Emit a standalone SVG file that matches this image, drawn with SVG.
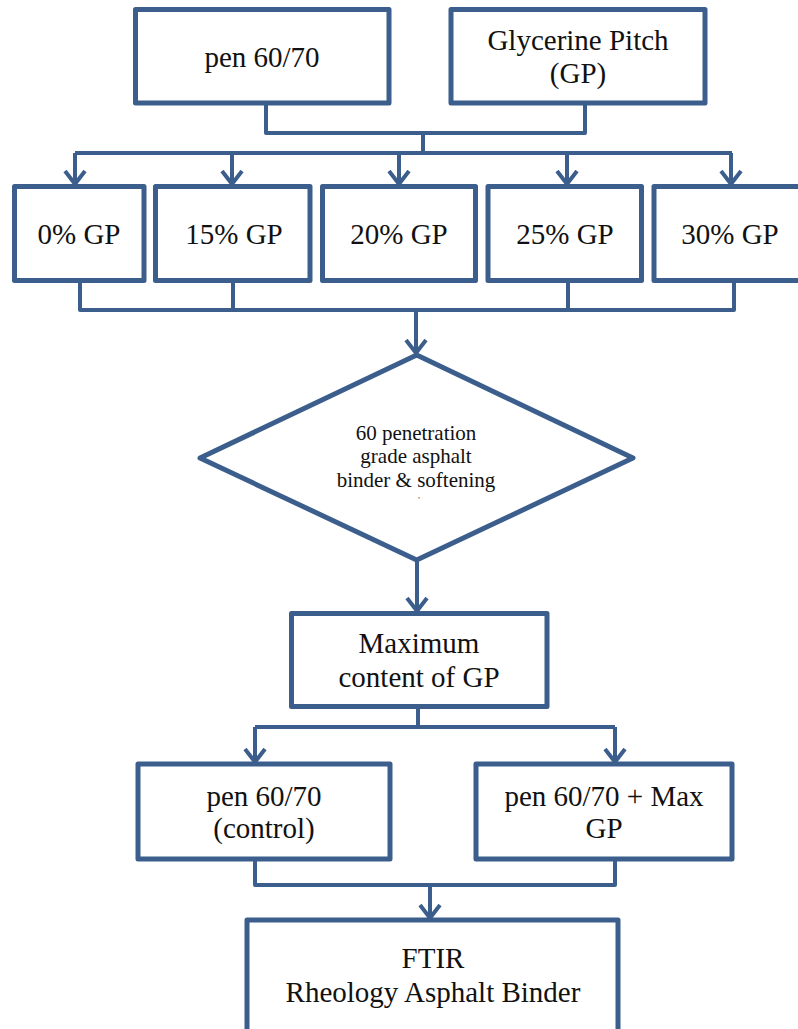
<svg xmlns="http://www.w3.org/2000/svg" width="798" height="1029" viewBox="0 0 798 1029">
<style>
.box{fill:#fff;stroke:#3B5E8C;stroke-width:5;stroke-linejoin:round}
.ln{fill:none;stroke:#3B5E8C;stroke-width:4;stroke-linejoin:round}
.t{font-family:"Liberation Serif","Times New Roman",serif;font-size:29px;fill:#111;text-anchor:middle}
.s{font-size:21px}
</style>
<defs>
<marker id="ah" viewBox="0 0 16 24" refX="14" refY="12" markerWidth="16" markerHeight="24" markerUnits="userSpaceOnUse" orient="auto">
<path d="M1,2 L14,12 L1,22" fill="none" stroke="#3B5E8C" stroke-width="4" stroke-linejoin="round"/>
</marker>
</defs>
<rect width="798" height="1029" fill="#fff"/>
<g id="connectors">
<path class="ln" d="M266,103 V133 H585 V103"/>
<path class="ln" d="M423,133 V153"/>
<path class="ln" d="M75,153 H732"/>
<path class="ln" d="M75,153 V184" marker-end="url(#ah)"/>
<path class="ln" d="M232,153 V184" marker-end="url(#ah)"/>
<path class="ln" d="M399,153 V184" marker-end="url(#ah)"/>
<path class="ln" d="M567,153 V184" marker-end="url(#ah)"/>
<path class="ln" d="M731,153 V184" marker-end="url(#ah)"/>
<path class="ln" d="M80,283 V310 H734 V283"/>
<path class="ln" d="M233,283 V310"/>
<path class="ln" d="M568,283 V310"/>
<path class="ln" d="M416,310 V353" marker-end="url(#ah)"/>
<path class="ln" d="M417,562 V611" marker-end="url(#ah)"/>
<path class="ln" d="M418,709 V727"/>
<path class="ln" d="M255,727 H615"/>
<path class="ln" d="M255,727 V762" marker-end="url(#ah)"/>
<path class="ln" d="M615,727 V762" marker-end="url(#ah)"/>
<path class="ln" d="M255,861 V885 H615 V861"/>
<path class="ln" d="M430,885 V918" marker-end="url(#ah)"/>
</g>
<g id="pen">
<rect class="box" x="135.5" y="9.5" width="253.5" height="93.5"/>
<text class="t" x="262" y="67">pen 60/70</text>
</g>
<g id="gp">
<rect class="box" x="451" y="9.5" width="254" height="93.5"/>
<text class="t" x="578" y="50">Glycerine Pitch</text>
<text class="t" x="578" y="83">(GP)</text>
</g>
<g id="gp0">
<rect class="box" x="14.5" y="186.5" width="129.5" height="94"/>
<text class="t" x="79" y="244">0% GP</text>
</g>
<g id="gp15">
<rect class="box" x="155.5" y="186.5" width="154.5" height="94"/>
<text class="t" x="234" y="244">15% GP</text>
</g>
<g id="gp20">
<rect class="box" x="322.5" y="186.5" width="153" height="94"/>
<text class="t" x="399" y="244">20% GP</text>
</g>
<g id="gp25">
<rect class="box" x="488" y="186.5" width="153.5" height="94"/>
<text class="t" x="565" y="244">25% GP</text>
</g>
<g id="gp30">
<rect class="box" x="654" y="186.5" width="152" height="94"/>
<text class="t" x="730" y="244">30% GP</text>
</g>
<g id="decision">
<polygon class="box" points="416.7,355 633,458 416.7,560 200,458"/>
<text class="t s" x="416" y="440">60 penetration</text>
<text class="t s" x="416" y="463">grade asphalt</text>
<text class="t s" x="416" y="487">binder &amp; softening</text>
<text class="t" x="419" y="503" style="font-size:8px">'</text>
</g>
<g id="maxgp">
<rect class="box" x="291.5" y="613.5" width="255.5" height="93"/>
<text class="t" x="419" y="653">Maximum</text>
<text class="t" x="419" y="687">content of GP</text>
</g>
<g id="control">
<rect class="box" x="138" y="764" width="252" height="95"/>
<text class="t" x="264" y="806">pen 60/70</text>
<text class="t" x="264" y="838">(control)</text>
</g>
<g id="pengp">
<rect class="box" x="476" y="764" width="256" height="95"/>
<text class="t" x="604" y="806">pen 60/70 + Max</text>
<text class="t" x="604" y="838">GP</text>
</g>
<g id="ftir">
<rect class="box" x="247" y="920" width="371" height="130"/>
<text class="t" x="433" y="968">FTIR</text>
<text class="t" x="433" y="1002">Rheology Asphalt Binder</text>
</g>
</svg>
